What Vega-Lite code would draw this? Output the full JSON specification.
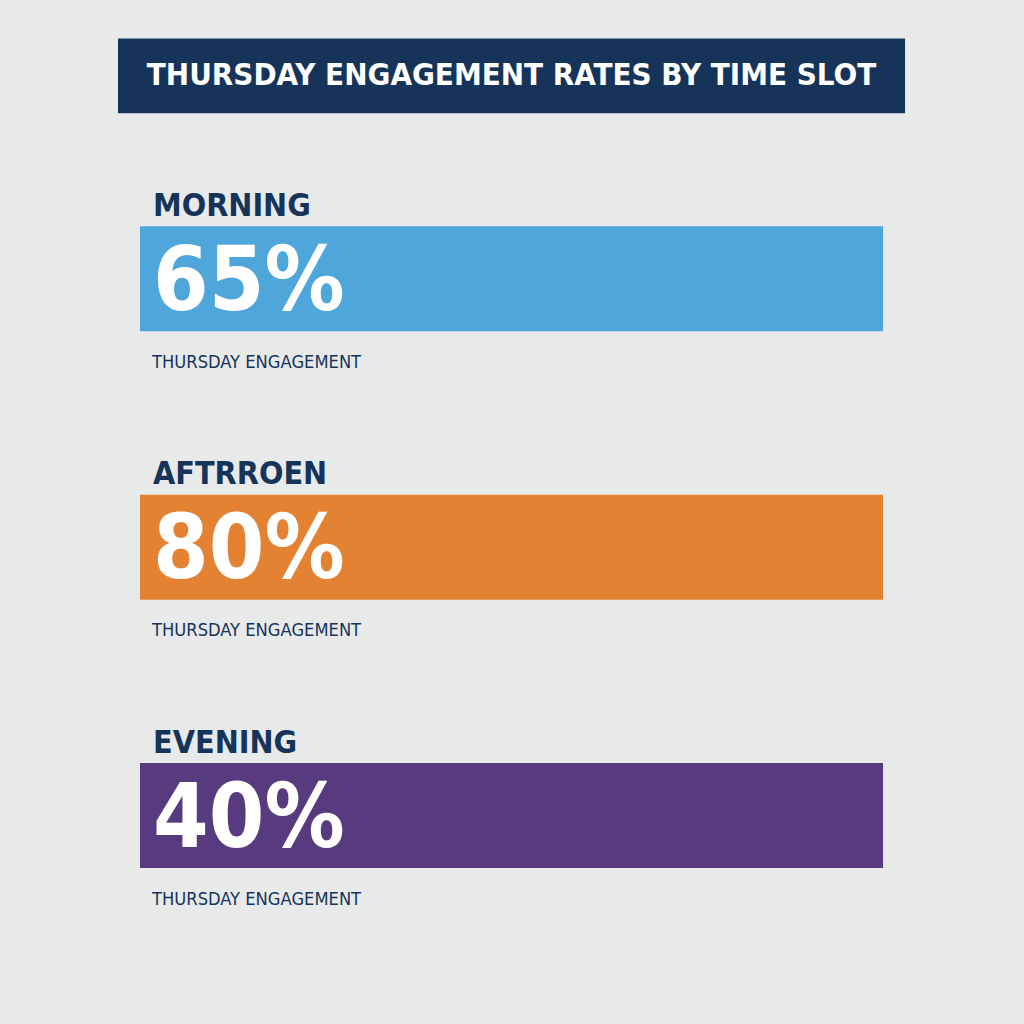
{"$schema":"https://vega.github.io/schema/vega-lite/v6.json","autosize":{"type":"fit","contains":"padding"},"width":1024,"height":1024,"padding":0,"background":"#e8e9e9","config":{"view":{"stroke":null}},"data":{"values":[{"slot":"MORNING","row":1,"rate":65,"label":"65%","caption":"THURSDAY ENGAGEMENT","color":"Morning"},{"slot":"AFTRROEN","row":2,"rate":80,"label":"80%","caption":"THURSDAY ENGAGEMENT","color":"Afternoon"},{"slot":"EVENING","row":3,"rate":40,"label":"40%","caption":"THURSDAY ENGAGEMENT","color":"Evening"}]},"encoding":{"y":{"field":"row","type":"quantitative","scale":{"domain":[3.7579,-0.0201],"nice":false,"zero":false},"axis":null}},"layer":[{"data":{"values":[{"top":0.1043,"bottom":0.3836,"from":-2.96,"to":102.96}]},"mark":{"type":"rect","color":"#16345a"},"encoding":{"x":{"field":"from","type":"quantitative","scale":{"domain":[-18.84,118.97],"nice":false,"zero":false},"axis":null},"x2":{"field":"to"},"y":{"field":"top","type":"quantitative","axis":null},"y2":{"field":"bottom"}}},{"data":{"values":[{"title":"THURSDAY ENGAGEMENT RATES BY TIME SLOT","mid":0.2458,"centre":50}]},"mark":{"type":"text","font":"DejaVu Sans Condensed","fontSize":31,"fontWeight":"bold","color":"#ffffff","align":"center","baseline":"middle"},"encoding":{"x":{"field":"centre","type":"quantitative"},"y":{"field":"mid","type":"quantitative"},"text":{"field":"title"}}},{"mark":{"type":"bar","size":105},"transform":[{"calculate":"0","as":"start"},{"calculate":"100","as":"end"}],"encoding":{"x":{"field":"start","type":"quantitative"},"x2":{"field":"end"},"color":{"field":"color","type":"nominal","legend":null,"scale":{"domain":["Morning","Afternoon","Evening"],"range":["#4fa6da","#e38233","#583a7e"]}}}},{"mark":{"type":"text","font":"DejaVu Sans Condensed","fontSize":32,"fontWeight":"bold","color":"#16345a","align":"left","baseline":"middle","dx":153,"dy":-73},"encoding":{"x":{"datum":-18.84,"type":"quantitative"},"text":{"field":"slot"}}},{"mark":{"type":"text","font":"DejaVu Sans Condensed","fontSize":89,"fontWeight":"bold","color":"#ffffff","align":"left","baseline":"middle","dx":153,"dy":4},"encoding":{"x":{"datum":-18.84,"type":"quantitative"},"text":{"field":"label"}}},{"mark":{"type":"text","font":"DejaVu Sans Condensed","fontSize":18.2,"color":"#16345a","align":"left","baseline":"middle","dx":152,"dy":84},"encoding":{"x":{"datum":-18.84,"type":"quantitative"},"text":{"field":"caption"}}}]}
